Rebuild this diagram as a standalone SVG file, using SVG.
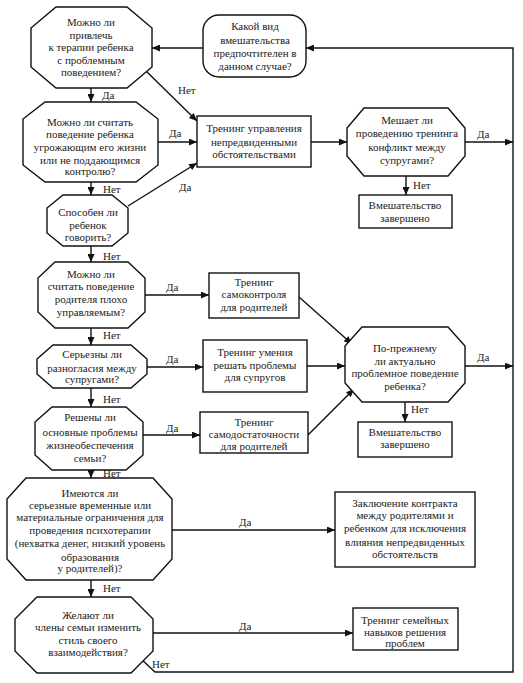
<svg xmlns="http://www.w3.org/2000/svg" width="523" height="683" viewBox="0 0 523 683">
<defs>
<marker id="ah" markerUnits="userSpaceOnUse" markerWidth="8" markerHeight="7" refX="8" refY="3.5" orient="auto">
<path d="M0,0 L8,3.5 L0,7 z" fill="#111"/>
</marker>
<style>
.s{fill:#fff;stroke:#111;stroke-width:1.4}
.c{fill:none;stroke:#111;stroke-width:1.4;marker-end:url(#ah)}
text{font-family:"Liberation Serif","Times New Roman",serif;font-size:11px;fill:#222;text-anchor:middle}
.lb{text-anchor:start}
</style>
</defs>
<rect width="523" height="683" fill="#fff"/>
<g id="connectors">
<path class="c" d="M203,48 L152,48"/>
<path class="c" d="M140,658 L155,672 L513,672 L513,48 L306,48"/>
<path class="c" d="M465,142 L513,142"/>
<path class="c" d="M465,366 L513,366"/>
<path class="c" d="M145,70 L197,121"/>
<path class="c" d="M158,142 L197,142"/>
<path class="c" d="M128,206 L197,163"/>
<path class="c" d="M311,142 L347,142"/>
<path class="c" d="M406,176 L406,195"/>
<path class="c" d="M91,88 L91,102"/>
<path class="c" d="M91,182 L91,195"/>
<path class="c" d="M91,246 L91,262"/>
<path class="c" d="M145,295 L209,295"/>
<path class="c" d="M91,328 L91,345"/>
<path class="c" d="M147,367 L203,367"/>
<path class="c" d="M91,388 L91,407"/>
<path class="c" d="M143,435 L200,435"/>
<path class="c" d="M91,470 L91,478"/>
<path class="c" d="M299,297 L352,344"/>
<path class="c" d="M307,366 L345,366"/>
<path class="c" d="M308,435 L354,389"/>
<path class="c" d="M405,402 L405,422"/>
<path class="c" d="M172,530 L335,530"/>
<path class="c" d="M91,580 L91,597"/>
<path class="c" d="M153,633 L353,633"/>
<text x="102" y="99" class="lb">Да</text>
<text x="178" y="94" class="lb">Нет</text>
<text x="169" y="137" class="lb">Да</text>
<text x="103" y="193" class="lb">Нет</text>
<text x="179" y="191" class="lb">Да</text>
<text x="103" y="260" class="lb">Нет</text>
<text x="166" y="291" class="lb">Да</text>
<text x="103" y="339" class="lb">Нет</text>
<text x="166" y="363" class="lb">Да</text>
<text x="103" y="403" class="lb">Нет</text>
<text x="166" y="432" class="lb">Да</text>
<text x="103" y="477" class="lb">Нет</text>
<text x="239" y="526" class="lb">Да</text>
<text x="103" y="592" class="lb">Нет</text>
<text x="239" y="630" class="lb">Да</text>
<text x="152" y="668" class="lb">Нет</text>
<text x="477" y="138" class="lb">Да</text>
<text x="413" y="189" class="lb">Нет</text>
<text x="477" y="361" class="lb">Да</text>
<text x="411" y="413" class="lb">Нет</text>
</g>
<g id="n0">
<rect class="s" x="203" y="15" width="103" height="62" rx="16"/>
<text x="255" y="30">Какой вид</text>
<text x="255" y="44">вмешательства</text>
<text x="255" y="57">предпочтителен в</text>
<text x="255" y="70">данном случае?</text>
</g>
<g id="n1">
<polygon class="s" points="56,7 127,7 152,28 152,67 127,88 56,88 31,67 31,28"/>
<text x="91" y="26">Можно ли</text>
<text x="91" y="39">привлечь</text>
<text x="91" y="51">к терапии ребенка</text>
<text x="91" y="64">с проблемным</text>
<text x="91" y="76">поведением?</text>
</g>
<g id="n2">
<polygon class="s" points="45,102 136,102 158,119 158,165 136,182 45,182 23,165 23,119"/>
<text x="90" y="126">Можно ли считать</text>
<text x="90" y="138">поведение ребенка</text>
<text x="90" y="151">угрожающим его жизни</text>
<text x="90" y="164">или не поддающимся</text>
<text x="90" y="175">контролю?</text>
</g>
<g id="n3">
<polygon class="s" points="63,195 112,195 128,208 128,233 112,246 63,246 47,233 47,208"/>
<text x="88" y="216">Способен ли</text>
<text x="88" y="229">ребенок</text>
<text x="88" y="241">говорить?</text>
</g>
<g id="n4">
<polygon class="s" points="55,262 128,262 145,278 145,312 128,328 55,328 38,312 38,278"/>
<text x="91" y="278">Можно ли</text>
<text x="91" y="290">считать поведение</text>
<text x="91" y="303">родителя плохо</text>
<text x="91" y="316">управляемым?</text>
</g>
<g id="n5">
<polygon class="s" points="53,345 131,345 147,359 147,374 131,388 53,388 37,374 37,359"/>
<text x="92" y="358">Серьезны ли</text>
<text x="92" y="372">разногласия между</text>
<text x="92" y="383">супругами?</text>
</g>
<g id="n6">
<polygon class="s" points="52,407 126,407 143,422 143,455 126,470 52,470 35,455 35,422"/>
<text x="90" y="421">Решены ли</text>
<text x="90" y="436">основные проблемы</text>
<text x="90" y="449">жизнеобеспечения</text>
<text x="90" y="462">семьи?</text>
</g>
<g id="n7">
<polygon class="s" points="26,478 153,478 172,499 172,559 153,580 26,580 7,559 7,499"/>
<text x="90" y="497">Имеются ли</text>
<text x="90" y="509">серьезные временные или</text>
<text x="90" y="521">материальные ограничения для</text>
<text x="90" y="534">проведения психотерапии</text>
<text x="90" y="547">(нехватка денег, низкий уровень</text>
<text x="90" y="561">образования</text>
<text x="90" y="572">у родителей)?</text>
</g>
<g id="n8">
<polygon class="s" points="37,597 131,597 153,619 153,651 131,673 37,673 15,651 15,619"/>
<text x="88" y="619">Желают ли</text>
<text x="88" y="631">члены семьи изменить</text>
<text x="88" y="644">стиль своего</text>
<text x="88" y="656">взаимодействия?</text>
</g>
<g id="b1">
<rect class="s" x="197" y="116" width="114" height="51"/>
<text x="254" y="132">Тренинг управления</text>
<text x="254" y="146">непредвиденными</text>
<text x="254" y="158">обстоятельствами</text>
</g>
<g id="q2">
<polygon class="s" points="364,108 448,108 465,128 465,156 448,176 364,176 347,156 347,128"/>
<text x="407" y="124">Мешает ли</text>
<text x="407" y="137">проведению тренинга</text>
<text x="407" y="151">конфликт между</text>
<text x="407" y="164">супругами?</text>
</g>
<g id="e1">
<rect class="s" x="359" y="195" width="93" height="33"/>
<text x="405" y="209">Вмешательство</text>
<text x="405" y="222">завершено</text>
</g>
<g id="b2">
<rect class="s" x="209" y="273" width="90" height="45"/>
<text x="254" y="286">Тренинг</text>
<text x="254" y="298">самоконтроля</text>
<text x="254" y="311">для родителей</text>
</g>
<g id="b3">
<rect class="s" x="203" y="340" width="104" height="52"/>
<text x="255" y="356">Тренинг умения</text>
<text x="255" y="369">решать проблемы</text>
<text x="255" y="381">для супругов</text>
</g>
<g id="b4">
<rect class="s" x="200" y="412" width="108" height="41"/>
<text x="254" y="426">Тренинг</text>
<text x="254" y="438">самодостаточности</text>
<text x="254" y="450">для родителей</text>
</g>
<g id="q3">
<polygon class="s" points="362,327 448,327 465,346 465,383 448,402 362,402 345,383 345,346"/>
<text x="405" y="352">По-прежнему</text>
<text x="405" y="365">ли актуально</text>
<text x="405" y="377">проблемное поведение</text>
<text x="405" y="390">ребенка?</text>
</g>
<g id="e2">
<rect class="s" x="358" y="422" width="94" height="35"/>
<text x="405" y="436">Вмешательство</text>
<text x="405" y="448">завершено</text>
</g>
<g id="b5">
<rect class="s" x="335" y="492" width="140" height="75"/>
<text x="405" y="507">Заключение контракта</text>
<text x="405" y="519">между родителями и</text>
<text x="405" y="532">ребенком для исключения</text>
<text x="405" y="546">влияния непредвиденных</text>
<text x="405" y="558">обстоятельств</text>
</g>
<g id="b6">
<rect class="s" x="353" y="608" width="105" height="42"/>
<text x="405" y="624">Тренинг семейных</text>
<text x="405" y="636">навыков решения</text>
<text x="405" y="647">проблем</text>
</g>
</svg>
